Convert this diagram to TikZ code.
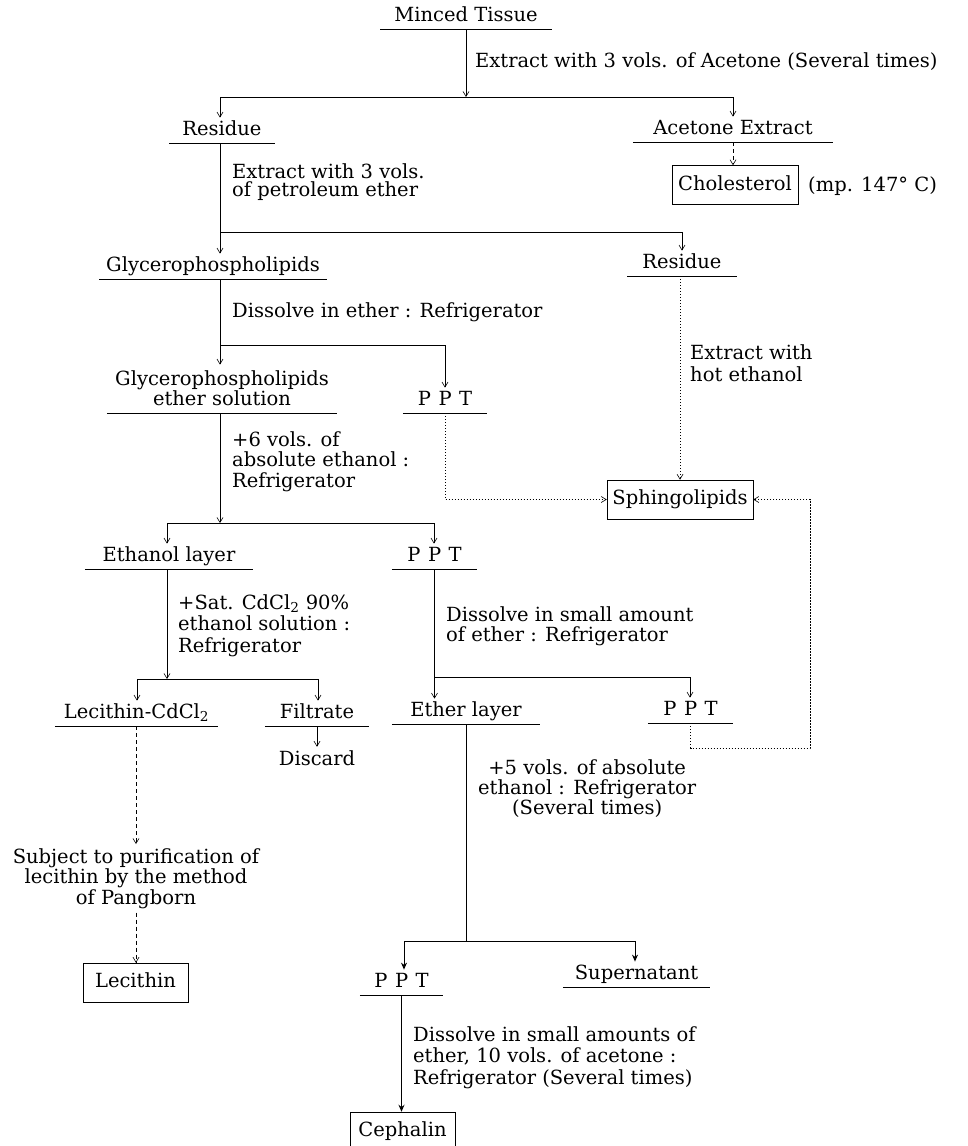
\documentclass[tikz,border=0pt]{standalone}
\usepackage{fontspec}
\setmainfont{DejaVu Serif}
\usetikzlibrary{arrows.meta,calc}
\newcommand\fsz{\fontsize{19.5}{20.5}\selectfont}
\newcommand\fskip[1]{\fontsize{19.5}{#1}\selectfont}
\newcommand\ppt{P\hspace{0.38em}P\hspace{0.38em}T}
\begin{document}
\begin{tikzpicture}[x=1pt,y=-1pt,
  every node/.style={font=\fsz, inner sep=0pt},
  stage/.style={anchor=south, text height=14pt, text depth=7pt, minimum width=#1},
  stagetwo/.style={anchor=south, text depth=7pt, minimum width=#1, align=center, font=\fskip{17.5}},
  uline/.style={line width=0.6pt},
  conn/.style={line width=0.6pt},
  arr/.style={conn, -{Straight Barb[length=5pt,width=6pt]}, shorten >=4pt},
  arrb/.style={line width=0.9pt, -{Stealth[length=7pt,width=6pt]}, shorten >=4pt},
  resbox/.style={draw, line width=0.5pt, text height=14pt, text depth=4pt, minimum width=#1, minimum height=39pt},
  note/.style={anchor=north west, align=left},
  dotl/.style={dash pattern=on 1.2pt off 1.8pt},
  dashl/.style={dash pattern=on 4pt off 3pt},
]
\useasboundingbox (0,0) rectangle (968,1146);

% ---------- nodes ----------
\node[stage=171] (mt) at (466,29) {Minced Tissue};
\node[stage=105] (res1) at (222,143) {Residue};
\node[stage=200] (ace) at (733,142) {Acetone Extract};
\node[resbox=126] (chol) at (735,185) {Cholesterol};
\node[anchor=base west] (mp) at (808,191) {(mp. 147° C)};
\node[stage=227] (glyc) at (213,279) {Glycerophospholipids};
\node[stage=109] (res2) at (682,276) {Residue};
\node[stagetwo=230] (ges) at (222,413) {Glycerophospholipids\\ether solution};
\node[stage=84] (ppt1) at (445,413) {\ppt};
\node[resbox=146] (sph) at (680,499.5) {Sphingolipids};
\node[stage=168] (eth) at (169,569) {Ethanol layer};
\node[stage=85] (ppt2) at (434.5,569) {\ppt};
\node[stage=163] (lcd) at (136.5,726) {Lecithin-CdCl\textsubscript{2}};
\node[stage=104] (filt) at (317,726) {Filtrate};
\node[anchor=base, text height=14pt, inner ysep=4pt] (disc) at (317,765) {Discard};
\node[stage=148] (ethl) at (466,724) {Ether layer};
\node[stage=85] (ppt3) at (690.5,723) {\ppt};
\node[anchor=north, align=center, inner sep=4pt, font=\fskip{20.5}] (subj) at (136,844) {Subject to purification of\\lecithin by the method\\of Pangborn};
\node[resbox=105] (lec) at (135.5,982.5) {Lecithin};
\node[stage=83] (ppt4) at (401.5,995) {\ppt};
\node[stage=147] (sup) at (636.5,987) {Supernatant};
\node[resbox=105] (ceph) at (402.5,1131.5) {Cephalin};

% ---------- labels ----------
\node[anchor=base west] (l1) at (475,67) {Extract with 3 vols. of Acetone (Several times)};
\node[note, font=\fskip{18}] (l2) at (232,163) {Extract with 3 vols.\\of petroleum ether};
\node[anchor=base west] (l3) at (232,317) {Dissolve in ether : Refrigerator};
\node[note, font=\fskip{22}] (l4) at (690,344) {Extract with\\hot ethanol};
\node[note, font=\fskip{20.5}] (l5) at (232,431) {+6 vols. of\\absolute ethanol :\\Refrigerator};
\node[note, font=\fskip{21.5}] (l6) at (178,594) {+Sat. CdCl\textsubscript{2} 90\%\\ethanol solution :\\Refrigerator};
\node[note, font=\fskip{20}] (l7) at (446,606) {Dissolve in small amount\\of ether : Refrigerator};
\node[note, align=center, font=\fskip{20}] (l8) at (478,759) {+5 vols. of absolute\\ethanol : Refrigerator\\(Several times)};
\node[note, font=\fskip{21.5}] (l9) at (413,1026) {Dissolve in small amounts of\\ether, 10 vols. of acetone :\\Refrigerator (Several times)};

% ---------- underlines ----------
\foreach \n in {mt,res1,ace,glyc,res2,ges,ppt1,eth,ppt2,lcd,filt,ethl,ppt3,ppt4,sup}
  \draw[uline] (\n.south west) -- (\n.south east);

% ---------- split coordinates ----------
\coordinate (s1) at (466,97);
\coordinate (s1l) at (220,97);
\coordinate (s1r) at (733,97);
\coordinate (s2) at (220,232);
\coordinate (s2r) at (682,232);
\coordinate (s3) at (220,345);
\coordinate (s3r) at (445,345);
\coordinate (s4) at (220,523);
\coordinate (s4l) at (167,523);
\coordinate (s4r) at (434,523);
\coordinate (s5) at (167,679);
\coordinate (s5l) at (137,679);
\coordinate (s5r) at (318,679);
\coordinate (s6) at (434,677);
\coordinate (s6r) at (690,677);
\coordinate (s7) at (466,941);
\coordinate (s7l) at (404,941);
\coordinate (s7r) at (635,941);
\coordinate (r3) at (810,748);

% ---------- connectors ----------
\draw[arr, shorten >=0pt] (mt.south) -- (s1);
\draw[conn] (s1l) -- (s1r);
\draw[arr] (s1l) -- (s1l |- res1.north);
\draw[arr] (s1r) -- (s1r |- ace.north);
\draw[arr, dashl, shorten >=0pt] (ace.south) -- (ace.south |- chol.north);

\draw[arr] (res1.south -| s2) -- (s2 |- glyc.north);
\draw[conn] (s2) -- (s2r);
\draw[arr] (s2r) -- (s2r |- res2.north);

\draw[arr, shorten >=0pt] (glyc.south -| s3) -- ([yshift=6pt]s3 |- ges.north);
\draw[conn] (s3) -- (s3r);
\draw[arr] (s3r) -- (s3r |- ppt1.north);

\draw[arr, dotl, shorten >=0pt] (ppt1.south) |- (sph.west);
\draw[arr, dotl, shorten >=0pt] (res2.south -| sph.north) -- (sph.north);
\draw[arr, dotl, shorten >=0pt] (ppt3.south) |- (r3) |- (sph.east);

\draw[arr, shorten >=0pt] (ges.south -| s4) -- (s4);
\draw[conn] (s4l) -- (s4r);
\draw[arr] (s4l) -- (s4l |- eth.north);
\draw[arr] (s4r) -- (s4r |- ppt2.north);

\draw[arr, shorten >=0pt] (eth.south -| s5) -- (s5);
\draw[conn] (s5l) -- (s5r);
\draw[arr] (s5l) -- (s5l |- lcd.north);
\draw[arr] (s5r) -- (s5r |- filt.north);
\draw[arr, shorten >=0pt] (filt.south) -- (disc.north);

\draw[arr, dashl, shorten >=0pt] (lcd.south -| subj.north) -- (subj.north);
\draw[arr, dashl, shorten >=0pt] (subj.south) -- (subj.south |- lec.north);

\draw[arr] (ppt2.south) -- (ppt2.south |- ethl.north);
\draw[conn] (s6) -- (s6r);
\draw[arr] (s6r) -- (s6r |- ppt3.north);

\draw[conn] (ethl.south) -- (s7);
\draw[conn] (s7l) -- (s7r);
\draw[arrb] (s7l) -- (s7l |- ppt4.north);
\draw[arrb] (s7r) -- (s7r |- sup.north);
\draw[arrb, shorten >=0pt] (ppt4.south) -- (ppt4.south |- ceph.north);
\end{tikzpicture}
\end{document}
